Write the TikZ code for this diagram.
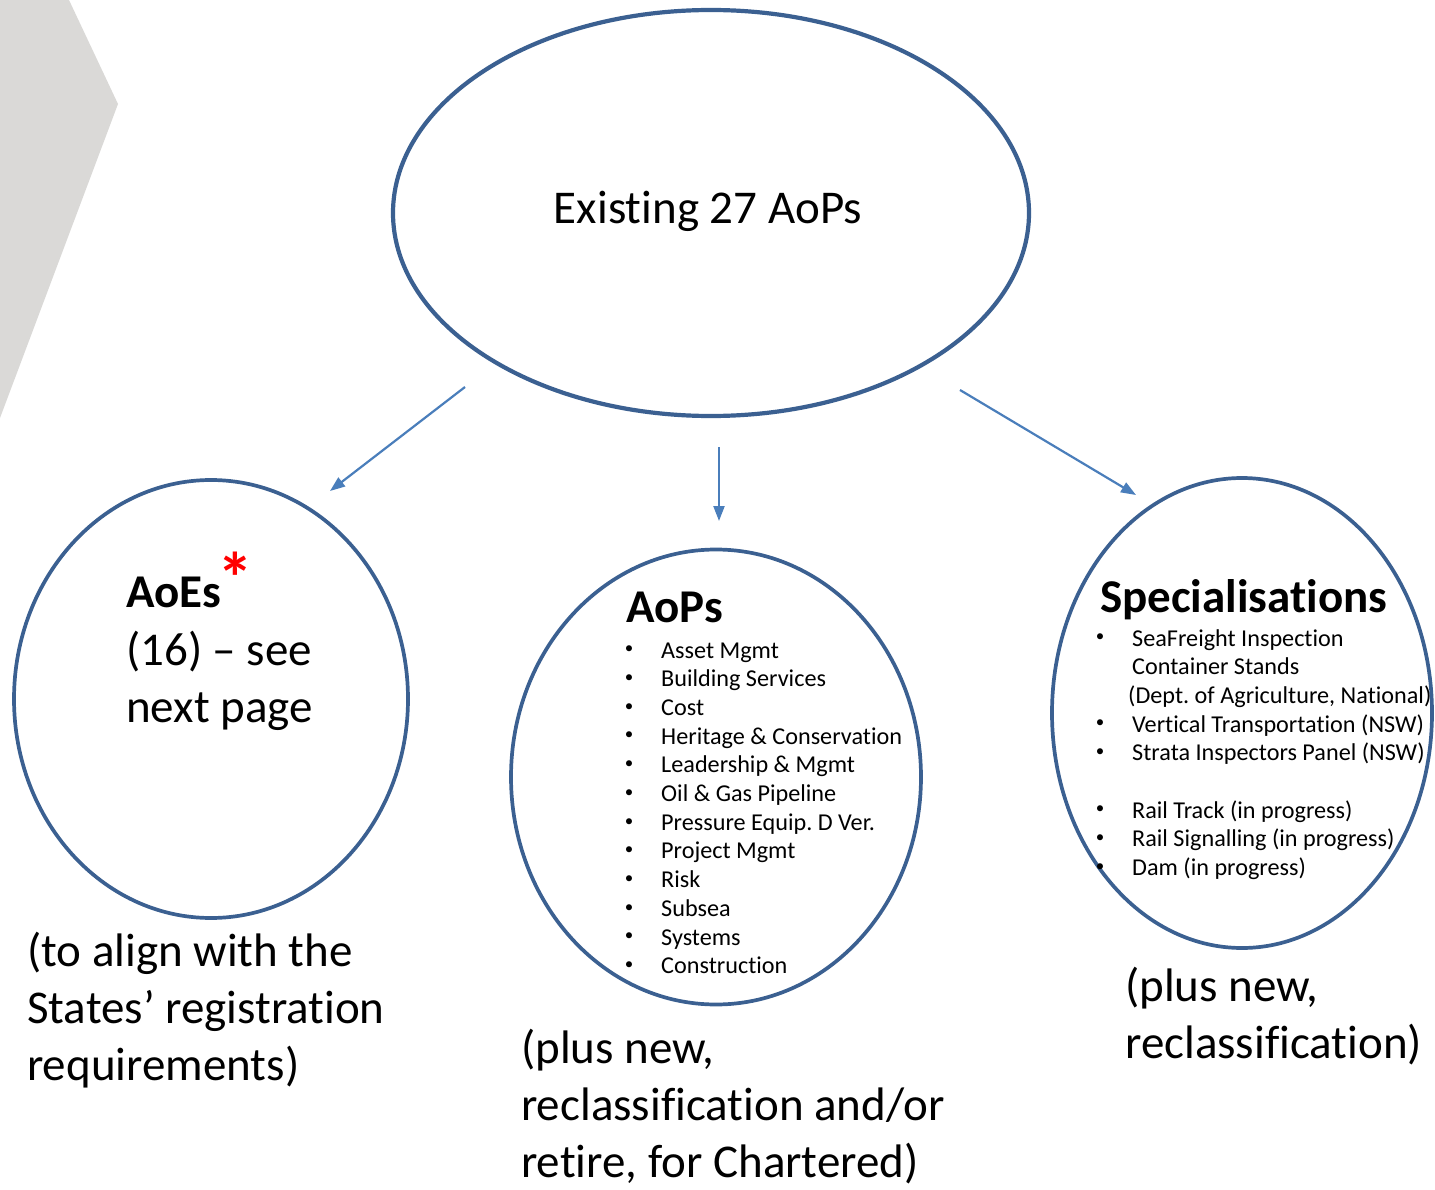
\documentclass[tikz,border=0pt]{standalone}
\usepackage{fontspec}
\setmainfont{Carlito}[Ligatures={NoCommon,NoContextual}]
\usetikzlibrary{arrows.meta,shapes.geometric}

\definecolor{ringblue}{HTML}{3B6091}
\definecolor{arrowblue}{HTML}{4A7EBB}
\definecolor{panelgrey}{HTML}{DAD9D7}

\begin{document}
\frenchspacing
\begin{tikzpicture}[x=1pt,y=-1pt,
  ring/.style={draw=ringblue, line width=3.7pt, ellipse, inner sep=0pt},
  link/.style={draw=arrowblue, line width=2.2pt, -{Triangle[length=15pt,width=11pt]}},
  big/.style={font=\fontsize{47}{57}\selectfont, inner sep=0pt},
  bigbold/.style={font=\fontsize{47}{57}\selectfont\bfseries, inner sep=0pt},
  item/.style={font=\fontsize{24.2}{28.7}\selectfont, inner sep=0pt},
  dot/.style={font=\fontsize{17}{20}\selectfont, inner sep=0pt},
  redmark/.style={font=\fontsize{72}{80}\selectfont\bfseries, text=red, inner sep=0pt}]

\useasboundingbox (0,0) rectangle (1435,1190);

% grey chevron panel at the left edge
\fill[panelgrey] (0,0) -- (69,0) -- (118,104) -- (0,418) -- cycle;

% the four rings
\node[ring, line width=4.2pt, minimum width=636pt, minimum height=406pt] (top) at (711,213) {};
\node[ring, minimum width=394pt, minimum height=438pt] (aoes) at (211,699) {};
\node[ring, minimum width=410pt, minimum height=455pt] (aops) at (716,777) {};
\node[ring, minimum width=380pt, minimum height=470pt] (spec) at (1242,713) {};

% connector end points
\coordinate (lfrom) at (465,387);
\coordinate (lto)   at (330,491);
\coordinate (mfrom) at (719,447);
\coordinate (mto)   at (719,521);
\coordinate (rfrom) at (960,390);
\coordinate (rto)   at (1136,495);
\draw[link] (lfrom) -- (lto);
\draw[link] (mfrom) -- (mto);
\draw[link] (rfrom) -- (rto);

% top ring text
\node[big, anchor=base] (title) at (708,224) {Existing 27 AoPs};

% left ring text
\node[bigbold, anchor=base west] (aoeshead) at (126,607) {AoEs};
\node[redmark, anchor=center] (aoesmark) at (235,578) {*};
\node[big, anchor=base west] (aoesl2) at (126,665) {(16) – see};
\node[big, anchor=base west] (aoesl3) at (126,722) {next page};

% left note
\foreach \t [count=\i] in {{(to align with the},{States’ registration},{requirements)}}
  \node[big, anchor=base west] (leftnote\i) at (27,{966+57*(\i-1)}) {\t};

% middle ring text
\node[bigbold, anchor=base west] (aopshead) at (626,622) {AoPs};
\foreach \t [count=\i] in {Asset Mgmt,Building Services,Cost,Heritage \& Conservation,
    Leadership \& Mgmt,Oil \& Gas Pipeline,Pressure Equip. D Ver.,Project Mgmt,
    Risk,Subsea,Systems,Construction}{
  \node[dot, anchor=center] (aopsdot\i) at (629,{650+28.7*(\i-1)}) {•};
  \node[item, anchor=base west] (aopsitem\i) at (661,{658+28.7*(\i-1)}) {\t};
}

% middle note
\foreach \t [count=\i] in {{(plus new,},{reclassification and/or},{retire, for Chartered)}}
  \node[big, anchor=base west] (midnote\i) at (521,{1063+57*(\i-1)}) {\t};

% right ring text
\node[bigbold, anchor=base west] (spechead) at (1100,612) {Specialisations};
\node[dot, anchor=center] (specdot1) at (1100,638) {•};
\node[item, anchor=base west] (specitem1) at (1132,646) {SeaFreight Inspection};
\node[item, anchor=base west] (specitem1b) at (1132,674.7) {Container Stands};
\node[item, anchor=base west] (specitem1c) at (1128,703.4) {(Dept. of Agriculture, National)};
\node[dot, anchor=center] (specdot2) at (1100,724) {•};
\node[item, anchor=base west] (specitem2) at (1132,732) {Vertical Transportation (NSW)};
\node[dot, anchor=center] (specdot3) at (1100,752.7) {•};
\node[item, anchor=base west] (specitem3) at (1132,760.7) {Strata Inspectors Panel (NSW)};
\node[dot, anchor=center] (specdot4) at (1100,810) {•};
\node[item, anchor=base west] (specitem4) at (1132,818) {Rail Track (in progress)};
\node[dot, anchor=center] (specdot5) at (1100,838.7) {•};
\node[item, anchor=base west] (specitem5) at (1132,846.7) {Rail Signalling (in progress)};
\node[dot, anchor=center] (specdot6) at (1100,867.4) {•};
\node[item, anchor=base west] (specitem6) at (1132,875.4) {Dam (in progress)};

% right note
\foreach \t [count=\i] in {{(plus new,},{reclassification)}}
  \node[big, anchor=base west] (rightnote\i) at (1125,{1001+57*(\i-1)}) {\t};

\end{tikzpicture}
\end{document}
